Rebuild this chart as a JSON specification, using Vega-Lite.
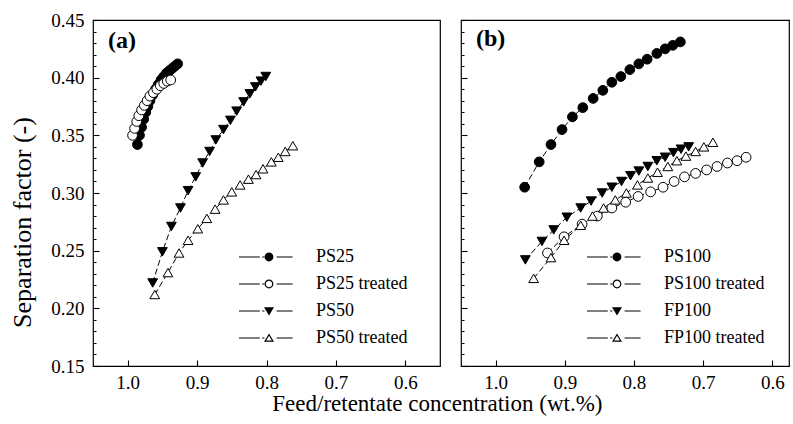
{
  "$schema": "https://vega.github.io/schema/vega-lite/v6.json",
  "padding": {"left": 9, "top": 10, "right": 0, "bottom": 0},
  "config": {
    "font": "Liberation Serif",
    "view": {"stroke": "#000", "strokeWidth": 1.2},
    "axis": {"labelFont": "Liberation Serif", "labelFontSize": 19, "labelColor": "#000", "tickColor": "#000", "tickWidth": 1.1, "domain": false, "grid": false, "labelFlush": false, "labelOverlap": false, "titleFont": "Liberation Serif", "titleFontWeight": "normal", "titleColor": "#000"},
    "legend": {"labelFont": "Liberation Serif", "labelFontSize": 18, "labelColor": "#000"}
  },
  "title": {"text": "Feed/retentate concentration (wt.%)", "orient": "bottom", "anchor": "middle", "fontSize": 23, "font": "Liberation Serif", "fontWeight": "normal", "offset": 0, "dx": 38, "color": "#000"},
  "datasets": {
    "a": [
      {"s": "PS25", "x": 0.986, "y": 0.342}, {"s": "PS25", "x": 0.983, "y": 0.350}, {"s": "PS25", "x": 0.980, "y": 0.357}, {"s": "PS25", "x": 0.977, "y": 0.364}, {"s": "PS25", "x": 0.974, "y": 0.370}, {"s": "PS25", "x": 0.971, "y": 0.375}, {"s": "PS25", "x": 0.968, "y": 0.380}, {"s": "PS25", "x": 0.964, "y": 0.385}, {"s": "PS25", "x": 0.960, "y": 0.390}, {"s": "PS25", "x": 0.956, "y": 0.394}, {"s": "PS25", "x": 0.952, "y": 0.398}, {"s": "PS25", "x": 0.948, "y": 0.401}, {"s": "PS25", "x": 0.944, "y": 0.404}, {"s": "PS25", "x": 0.940, "y": 0.406}, {"s": "PS25", "x": 0.936, "y": 0.408}, {"s": "PS25", "x": 0.932, "y": 0.410}, {"s": "PS25", "x": 0.928, "y": 0.412},
      {"s": "PS25 treated", "x": 0.993, "y": 0.350}, {"s": "PS25 treated", "x": 0.990, "y": 0.356}, {"s": "PS25 treated", "x": 0.987, "y": 0.362}, {"s": "PS25 treated", "x": 0.984, "y": 0.367}, {"s": "PS25 treated", "x": 0.980, "y": 0.372}, {"s": "PS25 treated", "x": 0.976, "y": 0.376}, {"s": "PS25 treated", "x": 0.972, "y": 0.380}, {"s": "PS25 treated", "x": 0.968, "y": 0.384}, {"s": "PS25 treated", "x": 0.963, "y": 0.387}, {"s": "PS25 treated", "x": 0.958, "y": 0.390}, {"s": "PS25 treated", "x": 0.953, "y": 0.393}, {"s": "PS25 treated", "x": 0.948, "y": 0.395}, {"s": "PS25 treated", "x": 0.943, "y": 0.397}, {"s": "PS25 treated", "x": 0.938, "y": 0.398},
      {"s": "PS50", "x": 0.964, "y": 0.222}, {"s": "PS50", "x": 0.950, "y": 0.249}, {"s": "PS50", "x": 0.937, "y": 0.271}, {"s": "PS50", "x": 0.924, "y": 0.287}, {"s": "PS50", "x": 0.913, "y": 0.302}, {"s": "PS50", "x": 0.902, "y": 0.314}, {"s": "PS50", "x": 0.892, "y": 0.326}, {"s": "PS50", "x": 0.882, "y": 0.336}, {"s": "PS50", "x": 0.873, "y": 0.346}, {"s": "PS50", "x": 0.862, "y": 0.355}, {"s": "PS50", "x": 0.852, "y": 0.363}, {"s": "PS50", "x": 0.843, "y": 0.371}, {"s": "PS50", "x": 0.833, "y": 0.379}, {"s": "PS50", "x": 0.824, "y": 0.386}, {"s": "PS50", "x": 0.816, "y": 0.392}, {"s": "PS50", "x": 0.808, "y": 0.397}, {"s": "PS50", "x": 0.801, "y": 0.401},
      {"s": "PS50 treated", "x": 0.961, "y": 0.212}, {"s": "PS50 treated", "x": 0.942, "y": 0.231}, {"s": "PS50 treated", "x": 0.926, "y": 0.248}, {"s": "PS50 treated", "x": 0.913, "y": 0.259}, {"s": "PS50 treated", "x": 0.899, "y": 0.269}, {"s": "PS50 treated", "x": 0.886, "y": 0.278}, {"s": "PS50 treated", "x": 0.874, "y": 0.286}, {"s": "PS50 treated", "x": 0.862, "y": 0.294}, {"s": "PS50 treated", "x": 0.850, "y": 0.301}, {"s": "PS50 treated", "x": 0.838, "y": 0.307}, {"s": "PS50 treated", "x": 0.826, "y": 0.312}, {"s": "PS50 treated", "x": 0.815, "y": 0.316}, {"s": "PS50 treated", "x": 0.805, "y": 0.321}, {"s": "PS50 treated", "x": 0.793, "y": 0.327}, {"s": "PS50 treated", "x": 0.783, "y": 0.331}, {"s": "PS50 treated", "x": 0.773, "y": 0.336}, {"s": "PS50 treated", "x": 0.762, "y": 0.341}
    ],
    "b": [
      {"s": "PS100", "x": 0.958, "y": 0.305}, {"s": "PS100", "x": 0.937, "y": 0.327}, {"s": "PS100", "x": 0.920, "y": 0.342}, {"s": "PS100", "x": 0.904, "y": 0.355}, {"s": "PS100", "x": 0.889, "y": 0.366}, {"s": "PS100", "x": 0.874, "y": 0.374}, {"s": "PS100", "x": 0.859, "y": 0.382}, {"s": "PS100", "x": 0.845, "y": 0.389}, {"s": "PS100", "x": 0.832, "y": 0.396}, {"s": "PS100", "x": 0.819, "y": 0.401}, {"s": "PS100", "x": 0.806, "y": 0.407}, {"s": "PS100", "x": 0.793, "y": 0.412}, {"s": "PS100", "x": 0.781, "y": 0.416}, {"s": "PS100", "x": 0.767, "y": 0.421}, {"s": "PS100", "x": 0.755, "y": 0.425}, {"s": "PS100", "x": 0.744, "y": 0.428}, {"s": "PS100", "x": 0.733, "y": 0.431},
      {"s": "PS100 treated", "x": 0.925, "y": 0.248}, {"s": "PS100 treated", "x": 0.901, "y": 0.262}, {"s": "PS100 treated", "x": 0.875, "y": 0.273}, {"s": "PS100 treated", "x": 0.853, "y": 0.280}, {"s": "PS100 treated", "x": 0.832, "y": 0.287}, {"s": "PS100 treated", "x": 0.812, "y": 0.292}, {"s": "PS100 treated", "x": 0.794, "y": 0.297}, {"s": "PS100 treated", "x": 0.776, "y": 0.301}, {"s": "PS100 treated", "x": 0.758, "y": 0.305}, {"s": "PS100 treated", "x": 0.742, "y": 0.310}, {"s": "PS100 treated", "x": 0.727, "y": 0.314}, {"s": "PS100 treated", "x": 0.711, "y": 0.317}, {"s": "PS100 treated", "x": 0.695, "y": 0.320}, {"s": "PS100 treated", "x": 0.680, "y": 0.323}, {"s": "PS100 treated", "x": 0.665, "y": 0.326}, {"s": "PS100 treated", "x": 0.651, "y": 0.328}, {"s": "PS100 treated", "x": 0.638, "y": 0.331},
      {"s": "FP100", "x": 0.957, "y": 0.242}, {"s": "FP100", "x": 0.933, "y": 0.258}, {"s": "FP100", "x": 0.916, "y": 0.268}, {"s": "FP100", "x": 0.897, "y": 0.279}, {"s": "FP100", "x": 0.877, "y": 0.287}, {"s": "FP100", "x": 0.862, "y": 0.293}, {"s": "FP100", "x": 0.846, "y": 0.300}, {"s": "FP100", "x": 0.832, "y": 0.305}, {"s": "FP100", "x": 0.818, "y": 0.310}, {"s": "FP100", "x": 0.805, "y": 0.315}, {"s": "FP100", "x": 0.793, "y": 0.319}, {"s": "FP100", "x": 0.780, "y": 0.323}, {"s": "FP100", "x": 0.767, "y": 0.328}, {"s": "FP100", "x": 0.755, "y": 0.331}, {"s": "FP100", "x": 0.743, "y": 0.335}, {"s": "FP100", "x": 0.732, "y": 0.338}, {"s": "FP100", "x": 0.721, "y": 0.340},
      {"s": "FP100 treated", "x": 0.945, "y": 0.226}, {"s": "FP100 treated", "x": 0.920, "y": 0.244}, {"s": "FP100 treated", "x": 0.901, "y": 0.259}, {"s": "FP100 treated", "x": 0.877, "y": 0.272}, {"s": "FP100 treated", "x": 0.860, "y": 0.280}, {"s": "FP100 treated", "x": 0.844, "y": 0.287}, {"s": "FP100 treated", "x": 0.827, "y": 0.294}, {"s": "FP100 treated", "x": 0.811, "y": 0.300}, {"s": "FP100 treated", "x": 0.795, "y": 0.307}, {"s": "FP100 treated", "x": 0.780, "y": 0.313}, {"s": "FP100 treated", "x": 0.766, "y": 0.318}, {"s": "FP100 treated", "x": 0.751, "y": 0.323}, {"s": "FP100 treated", "x": 0.738, "y": 0.328}, {"s": "FP100 treated", "x": 0.725, "y": 0.332}, {"s": "FP100 treated", "x": 0.711, "y": 0.336}, {"s": "FP100 treated", "x": 0.699, "y": 0.340}, {"s": "FP100 treated", "x": 0.686, "y": 0.344}
    ]
  },
  "spacing": 18,
  "resolve": {"scale": {"x": "independent", "y": "independent", "shape": "independent", "fill": "independent"}, "legend": {"shape": "independent", "fill": "independent"}},
  "hconcat": [
    {
      "width": 347, "height": 346,
      "title": {"text": "(a)", "anchor": "start", "orient": "top", "frame": "group", "offset": -61, "dx": 15, "fontSize": 24, "fontWeight": "bold", "font": "Liberation Serif", "baseline": "alphabetic", "color": "#000"},
      "data": {"name": "a"},
      "resolve": {"axis": {"y": "independent"}, "scale": {"shape": "independent"}, "legend": {"shape": "independent"}},
      "layer": [
        {
          "mark": {"type": "line", "color": "#000", "strokeWidth": 1, "strokeDash": [6, 3]},
          "encoding": {
            "x": {"field": "x", "type": "quantitative", "scale": {"domain": [0.55, 1.05], "reverse": true, "nice": false, "zero": false}, "axis": {"values": [1.0, 0.9, 0.8, 0.7, 0.6], "format": ".1f", "tickSize": -6, "labelPadding": 13, "title": null}},
            "y": {"field": "y", "type": "quantitative", "scale": {"domain": [0.15, 0.45], "nice": false, "zero": false}, "axis": {"orient": "left", "values": [0.15, 0.2, 0.25, 0.3, 0.35, 0.4, 0.45], "format": ".2f", "tickSize": -6, "labelPadding": 15, "title": "Separation factor (-)", "titleFontSize": 26, "titlePadding": 15, "titleY": 202}},
            "detail": {"field": "s"}
          }
        },
        {
          "mark": {"type": "point", "filled": true, "stroke": "#000", "strokeWidth": 1, "size": 95, "opacity": 1},
          "encoding": {
            "x": {"field": "x", "type": "quantitative"},
            "y": {"field": "y", "type": "quantitative", "axis": {"orient": "left", "values": [0.16, 0.17, 0.18, 0.19, 0.21, 0.22, 0.23, 0.24, 0.26, 0.27, 0.28, 0.29, 0.31, 0.32, 0.33, 0.34, 0.36, 0.37, 0.38, 0.39, 0.41, 0.42, 0.43, 0.44], "tickSize": -3, "labels": false, "title": null}},
            "shape": {"field": "s", "scale": {"domain": ["PS25", "PS25 treated", "PS50", "PS50 treated"], "range": ["circle", "circle", "triangle-down", "triangle-up"]}, "legend": null},
            "fill": {"field": "s", "scale": {"domain": ["PS25", "PS25 treated", "PS50", "PS50 treated"], "range": ["#000", "#fff", "#000", "#fff"]}, "legend": null}
          }
        },
        {
          "transform": [{"filter": "false"}],
          "mark": {"type": "point", "filled": true, "fill": "#000", "strokeWidth": 0, "opacity": 1},
          "encoding": {
            "x": {"field": "x", "type": "quantitative"},
            "y": {"field": "y", "type": "quantitative", "axis": null},
            "shape": {"field": "s", "scale": {"domain": ["PS25", "PS25 treated", "PS50", "PS50 treated"], "range": [
              "M-7.5,-0.14H-2.3V0.14H-7.5ZM-1.7,-0.14H-1.15V0.14H-1.7ZM1.9,-0.14H5.9V0.14H1.9ZM1.1,0A1.1,1.1,0,1,1,-1.1,0A1.1,1.1,0,1,1,1.1,0Z",
              "M-7.5,-0.14H-2.3V0.14H-7.5ZM-1.7,-0.14H-1.15V0.14H-1.7ZM1.9,-0.14H5.9V0.14H1.9ZM1.1,0A1.1,1.1,0,1,1,-1.1,0A1.1,1.1,0,1,1,1.1,0ZM0.8,0A0.8,0.8,0,1,0,-0.8,0A0.8,0.8,0,1,0,0.8,0Z",
              "M-7.5,-0.14H-2.3V0.14H-7.5ZM-1.7,-0.14H-1.15V0.14H-1.7ZM1.9,-0.14H5.9V0.14H1.9ZM-1.25,-0.95L1.25,-0.95L0,1.15Z",
              "M-7.5,-0.14H-2.3V0.14H-7.5ZM-1.7,-0.14H-1.15V0.14H-1.7ZM1.9,-0.14H5.9V0.14H1.9ZM0,-1.15L1.25,0.95L-1.25,0.95ZM0,-0.56L-0.72,0.65L0.72,0.65Z"]},
              "legend": {"title": null, "orient": "none", "legendX": 167, "legendY": 228, "padding": 0, "rowPadding": 9, "labelOffset": 38, "symbolSize": 64, "symbolStrokeWidth": 0, "symbolFillColor": "#000", "symbolOpacity": 1, "labelLimit": 300}}
          }
        }
      ]
    },
    {
      "width": 328, "height": 346,
      "title": {"text": "(b)", "anchor": "start", "orient": "top", "frame": "group", "offset": -51, "dx": 15, "fontSize": 24, "fontWeight": "bold", "font": "Liberation Serif", "baseline": "alphabetic", "color": "#000"},
      "data": {"name": "b"},
      "resolve": {"axis": {"y": "independent"}, "scale": {"shape": "independent"}, "legend": {"shape": "independent"}},
      "layer": [
        {
          "mark": {"type": "line", "color": "#000", "strokeWidth": 1, "strokeDash": [6, 3]},
          "encoding": {
            "x": {"field": "x", "type": "quantitative", "scale": {"domain": [0.576, 1.05], "reverse": true, "nice": false, "zero": false}, "axis": {"values": [1.0, 0.9, 0.8, 0.7, 0.6], "format": ".1f", "tickSize": -6, "labelPadding": 13, "title": null}},
            "y": {"field": "y", "type": "quantitative", "scale": {"domain": [0.15, 0.45], "nice": false, "zero": false}, "axis": {"orient": "left", "values": [0.15, 0.2, 0.25, 0.3, 0.35, 0.4, 0.45], "tickSize": -6, "labels": false, "title": null}},
            "detail": {"field": "s"}
          }
        },
        {
          "mark": {"type": "point", "filled": true, "stroke": "#000", "strokeWidth": 1, "size": 95, "opacity": 1},
          "encoding": {
            "x": {"field": "x", "type": "quantitative"},
            "y": {"field": "y", "type": "quantitative", "axis": {"orient": "left", "values": [0.16, 0.17, 0.18, 0.19, 0.21, 0.22, 0.23, 0.24, 0.26, 0.27, 0.28, 0.29, 0.31, 0.32, 0.33, 0.34, 0.36, 0.37, 0.38, 0.39, 0.41, 0.42, 0.43, 0.44], "tickSize": -3, "labels": false, "title": null}},
            "shape": {"field": "s", "scale": {"domain": ["PS100", "PS100 treated", "FP100", "FP100 treated"], "range": ["circle", "circle", "triangle-down", "triangle-up"]}, "legend": null},
            "fill": {"field": "s", "scale": {"domain": ["PS100", "PS100 treated", "FP100", "FP100 treated"], "range": ["#000", "#fff", "#000", "#fff"]}, "legend": null}
          }
        },
        {
          "transform": [{"filter": "false"}],
          "mark": {"type": "point", "filled": true, "fill": "#000", "strokeWidth": 0, "opacity": 1},
          "encoding": {
            "x": {"field": "x", "type": "quantitative"},
            "y": {"field": "y", "type": "quantitative", "axis": null},
            "shape": {"field": "s", "scale": {"domain": ["PS100", "PS100 treated", "FP100", "FP100 treated"], "range": [
              "M-7.5,-0.14H-2.3V0.14H-7.5ZM-1.7,-0.14H-1.15V0.14H-1.7ZM1.9,-0.14H5.9V0.14H1.9ZM1.1,0A1.1,1.1,0,1,1,-1.1,0A1.1,1.1,0,1,1,1.1,0Z",
              "M-7.5,-0.14H-2.3V0.14H-7.5ZM-1.7,-0.14H-1.15V0.14H-1.7ZM1.9,-0.14H5.9V0.14H1.9ZM1.1,0A1.1,1.1,0,1,1,-1.1,0A1.1,1.1,0,1,1,1.1,0ZM0.8,0A0.8,0.8,0,1,0,-0.8,0A0.8,0.8,0,1,0,0.8,0Z",
              "M-7.5,-0.14H-2.3V0.14H-7.5ZM-1.7,-0.14H-1.15V0.14H-1.7ZM1.9,-0.14H5.9V0.14H1.9ZM-1.25,-0.95L1.25,-0.95L0,1.15Z",
              "M-7.5,-0.14H-2.3V0.14H-7.5ZM-1.7,-0.14H-1.15V0.14H-1.7ZM1.9,-0.14H5.9V0.14H1.9ZM0,-1.15L1.25,0.95L-1.25,0.95ZM0,-0.56L-0.72,0.65L0.72,0.65Z"]},
              "legend": {"title": null, "orient": "none", "legendX": 147, "legendY": 228, "padding": 0, "rowPadding": 9, "labelOffset": 38, "symbolSize": 64, "symbolStrokeWidth": 0, "symbolFillColor": "#000", "symbolOpacity": 1, "labelLimit": 300}}
          }
        }
      ]
    }
  ]
}
